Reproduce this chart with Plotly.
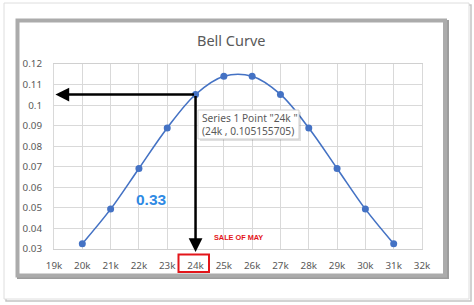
import plotly.graph_objects as go

# ---- data ----
x_values = [20000, 21000, 22000, 23000, 24000, 25000, 26000, 27000, 28000, 29000, 30000, 31000]
y_values = [0.0326, 0.0494, 0.0692, 0.0889, 0.105155705, 0.1140, 0.1140, 0.1052, 0.0889, 0.0692, 0.0494, 0.0326]
x_tickvals = [19000, 20000, 21000, 22000, 23000, 24000, 25000, 26000, 27000, 28000, 29000, 30000, 31000, 32000]
x_ticktext = ["19k", "20k", "21k", "22k", "23k", "24k", "25k", "26k", "27k", "28k", "29k", "30k", "31k", "32k"]
y_tickvals = [0.03, 0.04, 0.05, 0.06, 0.07, 0.08, 0.09, 0.10, 0.11, 0.12]
y_ticktext = ["0.03", "0.04", "0.05", "0.06", "0.07", "0.08", "0.09", "0.1", "0.11", "0.12"]
title_text = "Bell Curve"
tooltip_lines = ['Series 1 Point "24k "', "(24k , 0.105155705)"]
sel_x = 24000
sel_y = 0.105155705
label_probability = "0.33"
label_sale = "SALE OF MAY"

W, H = 474, 305
L, R, T, B = 54, 52, 64, 56
PW, PH = W - L - R, H - T - B


def px(xp):
    return (xp - L) / PW


def py(yp):
    return (H - B - yp) / PH


fig = go.Figure()
fig.add_trace(go.Scatter(
    x=x_values, y=y_values, mode="lines+markers",
    line=dict(color="#4472c4", width=1.6, shape="spline", smoothing=1.0),
    marker=dict(color="#4472c4", size=7),
    cliponaxis=False, showlegend=False, hoverinfo="skip"))

shapes = [
    # outer frame shadow + frame
    dict(type="rect", xref="paper", yref="paper", x0=px(6), x1=px(471), y0=py(301), y1=py(5),
         line=dict(color="#c4c4c4", width=1.5), fillcolor="rgba(0,0,0,0)", layer="below"),
    dict(type="rect", xref="paper", yref="paper", x0=px(4), x1=px(469), y0=py(299), y1=py(3),
         line=dict(color="#dedede", width=1), fillcolor="white", layer="below"),
    # thick gray chart border (shadow + border)
    dict(type="rect", xref="paper", yref="paper", x0=px(19), x1=px(447), y0=py(277), y1=py(22),
         line=dict(color="#9c9c9c", width=4), fillcolor="rgba(0,0,0,0)", layer="below"),
    dict(type="rect", xref="paper", yref="paper", x0=px(17.5), x1=px(445), y0=py(275.5), y1=py(20.5),
         line=dict(color="#ababab", width=4), fillcolor="white", layer="below"),
    # red box around the 24k tick label
    dict(type="rect", xref="paper", yref="paper", x0=px(178.5), x1=px(209), y0=py(272), y1=py(254.5),
         line=dict(color="#e3151a", width=2), fillcolor="rgba(0,0,0,0)"),
    # tooltip shadow + box
    dict(type="rect", xref="paper", yref="paper", x0=px(200), x1=px(301), y0=py(141), y1=py(112),
         line=dict(width=0), fillcolor="rgba(0,0,0,0.12)"),
    dict(type="rect", xref="paper", yref="paper", x0=px(198), x1=px(299), y0=py(139), y1=py(110),
         line=dict(color="#cfcfcf", width=1), fillcolor="white"),
]

annotations = [
    dict(text=title_text, xref="paper", yref="paper", x=px(231), y=py(40), xanchor="center",
         yanchor="middle", showarrow=False, font=dict(family="Noto Sans", size=14.5, color="#595959")),
    # horizontal arrow to y-axis
    dict(text="", x=19050, y=sel_y, ax=sel_x, ay=sel_y, xref="x", yref="y", axref="x", ayref="y",
         showarrow=True, arrowhead=2, arrowsize=1.1, arrowwidth=2.5, arrowcolor="black", standoff=0),
    # vertical arrow to x-axis
    dict(text="", x=sel_x, y=0.0285, ax=sel_x, ay=sel_y, xref="x", yref="y", axref="x", ayref="y",
         showarrow=True, arrowhead=2, arrowsize=1.1, arrowwidth=2.5, arrowcolor="black", standoff=0),
    dict(text="<br>".join(tooltip_lines), xref="paper", yref="paper", x=px(200), y=py(124.5),
         xanchor="left", yanchor="middle", align="left", showarrow=False,
         font=dict(family="Noto Sans", size=10.2, color="#595959")),
    dict(text="<b>" + label_probability + "</b>", xref="paper", yref="paper", x=px(151), y=py(199),
         xanchor="center", yanchor="middle", showarrow=False,
         font=dict(family="Liberation Sans", size=15.5, color="#2f8ae4")),
    dict(text="<b>" + label_sale + "</b>", xref="paper", yref="paper", x=px(239), y=py(237.5),
         xanchor="center", yanchor="middle", showarrow=False,
         font=dict(family="Liberation Sans", size=7.3, color="#e3151a")),
]

fig.update_layout(
    width=W, height=H, autosize=False,
    margin=dict(l=L, r=R, t=T, b=B, pad=0),
    paper_bgcolor="white", plot_bgcolor="white",
    shapes=shapes, annotations=annotations,
    xaxis=dict(range=[19000, 32000], tickvals=x_tickvals, ticktext=x_ticktext,
               showgrid=True, gridcolor="#d9d9d9", gridwidth=1, zeroline=False,
               showline=True, linecolor="#d0d0d0", linewidth=1, mirror=True,
               ticks="", ticklabelstandoff=7,
               tickfont=dict(family="Noto Sans", size=9.8, color="#595959"), fixedrange=True),
    yaxis=dict(range=[0.03, 0.12], tickvals=y_tickvals, ticktext=y_ticktext,
               showgrid=True, gridcolor="#d9d9d9", gridwidth=1, zeroline=False,
               showline=True, linecolor="#d9d9d9", linewidth=1, mirror=True,
               ticks="", ticklabelstandoff=9,
               tickfont=dict(family="Noto Sans", size=9.8, color="#595959"), fixedrange=True),
)

fig.write_html("out.html")
